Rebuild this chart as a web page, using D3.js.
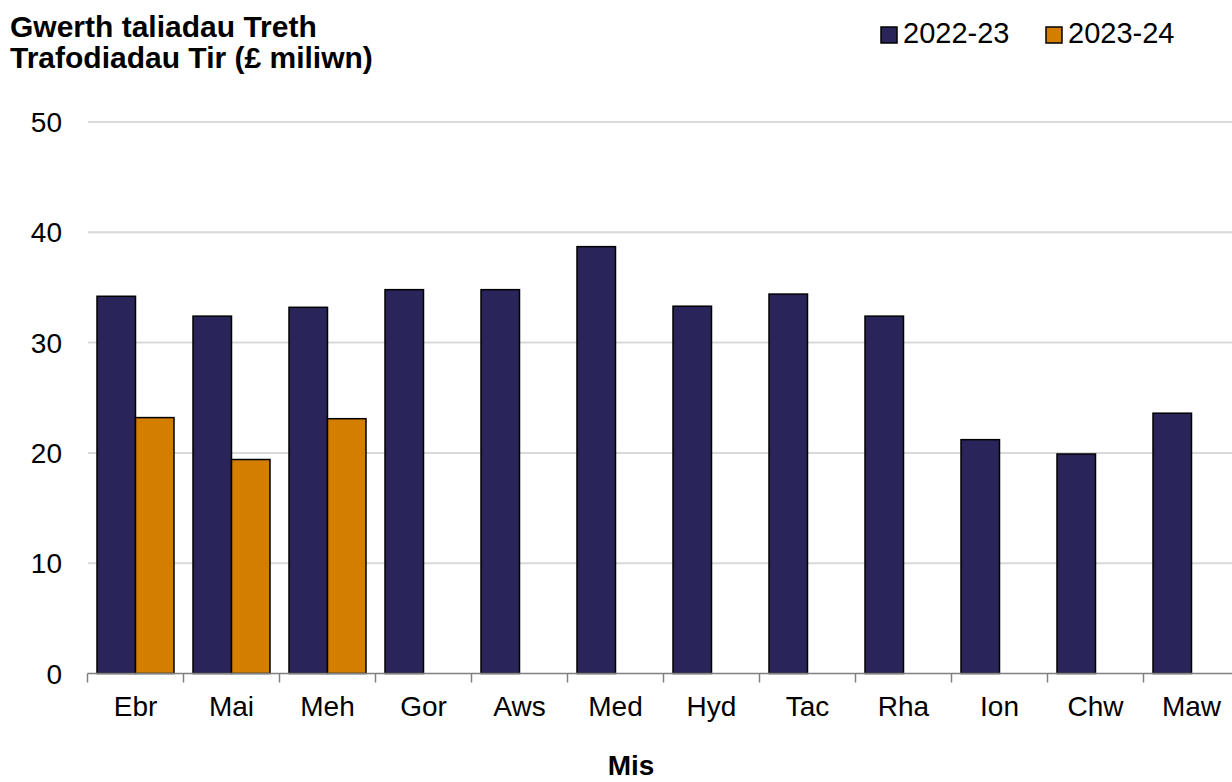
<!DOCTYPE html>
<html>
<head>
<meta charset="utf-8">
<script src="https://cdn.jsdelivr.net/npm/d3@7"></script>
<style>
  body { margin: 0; background: #fff; }
  svg { display: block; font-family: Arial, "Liberation Sans", sans-serif; }
</style>
</head>
<body>
<div id="chart"></div>
<script>
// data
var months = ["Ebr", "Mai", "Meh", "Gor", "Aws", "Med", "Hyd", "Tac", "Rha", "Ion", "Chw", "Maw"];
var seriesNames = ["2022-23", "2023-24"];
var values2022 = [34.2, 32.4, 33.2, 34.8, 34.8, 38.7, 33.3, 34.4, 32.4, 21.2, 19.9, 23.6];
var values2023 = [23.2, 19.4, 23.1];
var yTicks = [0, 10, 20, 30, 40, 50];
var colours = ["#29255a", "#d47e00"];

var width = 1232, height = 782;

var svg = d3.select("#chart").append("svg")
    .attr("width", width)
    .attr("height", height);

//////////////////// scales ////////////////////
var x0 = d3.scaleBand()
    .domain(months)
    .range([87.5, 1239.5])
    .padding(0);

var x1 = d3.scaleBand()
    .domain(seriesNames)
    .range([9.5, 86.5]);

var y = d3.scaleLinear()
    .domain([0, 50])
    .range([673.5, 122]);

var colour = d3.scaleOrdinal().domain(seriesNames).range(colours);

//////////////////// gridlines + y labels ////////////////////
svg.append("g")
  .selectAll("line")
  .data(yTicks.slice(1))
  .enter().append("line")
    .attr("x1", 88)
    .attr("x2", width)
    .attr("y1", function(d) { return y(d); })
    .attr("y2", function(d) { return y(d); })
    .attr("stroke", "#d9d9d9")
    .attr("stroke-width", 2);

svg.append("g")
  .selectAll("text")
  .data(yTicks)
  .enter().append("text")
    .attr("x", 62)
    .attr("y", function(d) { return y(d); })
    .attr("dy", "0.36em")
    .attr("text-anchor", "end")
    .attr("font-size", 28)
    .attr("fill", "#000")
    .text(function(d) { return d; });

//////////////////// bars ////////////////////
var rows = months.map(function(m, i) {
  var r = { month: m, vals: [] };
  r.vals.push({ key: seriesNames[0], value: values2022[i] });
  if (values2023[i] !== undefined) r.vals.push({ key: seriesNames[1], value: values2023[i] });
  return r;
});

var groups = svg.append("g")
  .selectAll("g")
  .data(rows)
  .enter().append("g")
    .attr("transform", function(d) { return "translate(" + x0(d.month) + ",0)"; });

groups.selectAll("rect")
  .data(function(d) { return d.vals; })
  .enter().append("rect")
    .attr("x", function(d) { return x1(d.key); })
    .attr("width", x1.bandwidth())
    .attr("y", function(d) { return y(d.value); })
    .attr("height", function(d) { return y(0) - y(d.value); })
    .attr("fill", function(d) { return colour(d.key); })
    .attr("stroke", "#000")
    .attr("stroke-width", 1.5);

//////////////////// x axis ////////////////////
var xAxis = svg.append("g")
    .attr("transform", "translate(0," + y(0) + ")");

xAxis.append("line")
    .attr("x1", 87.5)
    .attr("x2", 1239.5)
    .attr("stroke", "#808080")
    .attr("stroke-width", 1.5);

xAxis.selectAll(".tick")
  .data(months)
  .enter().append("line")
    .attr("class", "tick")
    .attr("x1", function(d) { return x0(d); })
    .attr("x2", function(d) { return x0(d); })
    .attr("y1", 0)
    .attr("y2", 9)
    .attr("stroke", "#808080")
    .attr("stroke-width", 1.5);

xAxis.selectAll(".lbl")
  .data(months)
  .enter().append("text")
    .attr("class", "lbl")
    .attr("x", function(d) { return x0(d) + x0.bandwidth() / 2; })
    .attr("y", 42)
    .attr("text-anchor", "middle")
    .attr("font-size", 28)
    .attr("fill", "#000")
    .text(function(d) { return d; });

svg.append("text")
    .attr("x", 631)
    .attr("y", 775)
    .attr("text-anchor", "middle")
    .attr("font-size", 28)
    .attr("font-weight", "bold")
    .text("Mis");

//////////////////// title ////////////////////
var title = svg.append("text")
    .attr("font-size", 30)
    .attr("font-weight", "bold")
    .attr("fill", "#000");
title.append("tspan").attr("x", 10).attr("y", 37).text("Gwerth taliadau Treth");
title.append("tspan").attr("x", 10).attr("y", 68).text("Trafodiadau Tir (£ miliwn)");

//////////////////// legend ////////////////////
var legendX = [881, 1046];
var legend = svg.append("g")
  .selectAll("g")
  .data(seriesNames)
  .enter().append("g")
    .attr("transform", function(d, i) { return "translate(" + legendX[i] + ",27)"; });

legend.append("rect")
    .attr("width", 16)
    .attr("height", 16)
    .attr("fill", function(d) { return colour(d); })
    .attr("stroke", "#000")
    .attr("stroke-width", 1.5);

legend.append("text")
    .attr("x", 22)
    .attr("y", 15.5)
    .attr("font-size", 29)
    .attr("fill", "#000")
    .text(function(d) { return d; });
</script>
</body>
</html>
